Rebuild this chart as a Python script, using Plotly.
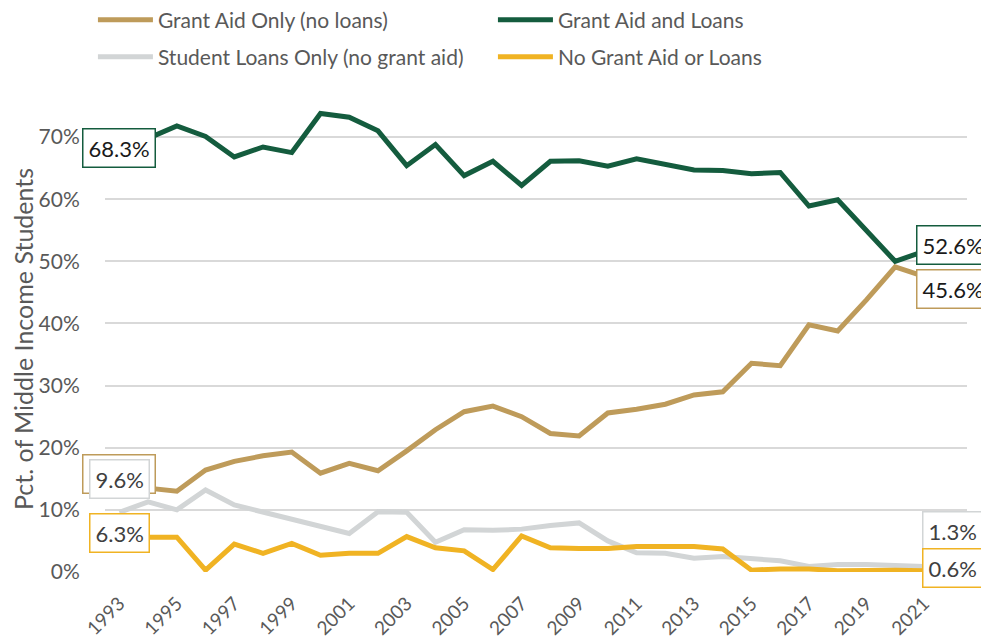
import plotly.graph_objects as go

years = list(range(1993, 2023))
grant_only = [15.8, 13.5, 13.0, 16.4, 17.8, 18.7, 19.3, 15.9, 17.5, 16.3, 19.5, 22.9, 25.8, 26.7, 25.0,
              22.3, 21.9, 25.6, 26.2, 27.0, 28.5, 29.0, 33.6, 33.2, 39.8, 38.8, 43.8, 49.1, 47.6, 45.6]
grant_and_loans = [68.3, 69.8, 71.8, 70.1, 66.8, 68.4, 67.5, 73.8, 73.2, 71.0, 65.4, 68.8, 63.8, 66.1, 62.2,
                   66.1, 66.2, 65.3, 66.5, 65.7, 64.7, 64.6, 64.1, 64.3, 58.9, 59.9, 55.0, 50.0, 51.6, 52.6]
loans_only = [9.6, 11.3, 10.0, 13.2, 10.8, 9.7, 8.4, 7.3, 6.2, 9.7, 9.6, 4.8, 6.8, 6.7, 6.9,
              7.5, 7.9, 5.0, 3.1, 3.0, 2.2, 2.5, 2.1, 1.8, 0.9, 1.2, 1.2, 1.0, 0.9, 1.3]
neither = [6.3, 5.6, 5.6, 0.3, 4.5, 3.0, 4.6, 2.7, 3.0, 3.0, 5.7, 3.9, 3.4, 0.4, 5.8,
           3.9, 3.8, 3.8, 4.1, 4.0, 4.1, 3.7, 0.3, 0.5, 0.5, 0.2, 0.3, 0.3, 0.2, 0.6]

names = ["Grant Aid Only (no loans)", "Grant Aid and Loans",
         "Student Loans Only (no grant aid)", "No Grant Aid or Loans"]
series = [grant_only, grant_and_loans, loans_only, neither]
colors = ["#BE9B5A", "#145C3E", "#D2D5D6", "#F0B323"]
legends = ["legend", "legend", "legend2", "legend2"]

FONT = "Lato"
TXT = "#595959"

fig = go.Figure()
for name, vals, col, lg in zip(names, series, colors, legends):
    fig.add_trace(go.Scatter(x=years, y=vals, name=name, mode="lines",
                             line=dict(color=col, width=5), legend=lg))

# end-point labels: (series index, point index, vertical shift)
label_specs = [(0, 0, 0), (2, 0, 33), (3, 0, 0), (1, 0, 0),
               (2, -1, 33), (3, -1, 0), (1, -1, 0), (0, -1, 0)]
annotations = []
for si, pi, ys in label_specs:
    v = series[si][pi]
    annotations.append(dict(
        x=years[pi], y=v, xref="x", yref="y", text=f"{v:.1f}%", showarrow=False,
        xanchor="center", yanchor="middle", yshift=ys,
        font=dict(family=FONT, size=22, color="#1a1a1a" if si in (0, 1) else "#404040"),
        bgcolor="white", bordercolor=colors[si], borderwidth=1.5, borderpad=5))

leg_common = dict(orientation="h", xanchor="left", yanchor="middle", x=-0.014,
                  entrywidth=330, entrywidthmode="pixels", itemwidth=55,
                  font=dict(family=FONT, size=21, color=TXT), bgcolor="rgba(0,0,0,0)")

# the page places the figure 8px from the top-left corner
fig.update_layout(
    width=981, height=631,
    margin=dict(l=97, r=22, t=98, b=67, autoexpand=False),
    paper_bgcolor="white", plot_bgcolor="white",
    font=dict(family=FONT, color=TXT),
    annotations=annotations,
    legend=dict(leg_common, y=1.1845),
    legend2=dict(leg_common, y=1.1052),
    xaxis=dict(range=[1992.5, 2022.5], tickmode="linear", tick0=1993, dtick=2,
               tickangle=-45, showgrid=False, zeroline=False, showline=False,
               ticks="outside", ticklen=12, tickcolor="rgba(0,0,0,0)",
               tickfont=dict(family=FONT, size=19, color=TXT)),
    yaxis=dict(range=[0, 75], tickmode="linear", tick0=0, dtick=10, ticksuffix="%",
               showgrid=True, gridcolor="#D9D9D9", gridwidth=2, zeroline=False,
               showline=False, ticks="outside", ticklen=20, tickcolor="rgba(0,0,0,0)",
               tickfont=dict(family=FONT, size=21, color=TXT),
               title=dict(text="Pct. of Middle Income Students", standoff=18,
                          font=dict(family=FONT, size=25, color=TXT))),
)

fig.write_html("out.html")
